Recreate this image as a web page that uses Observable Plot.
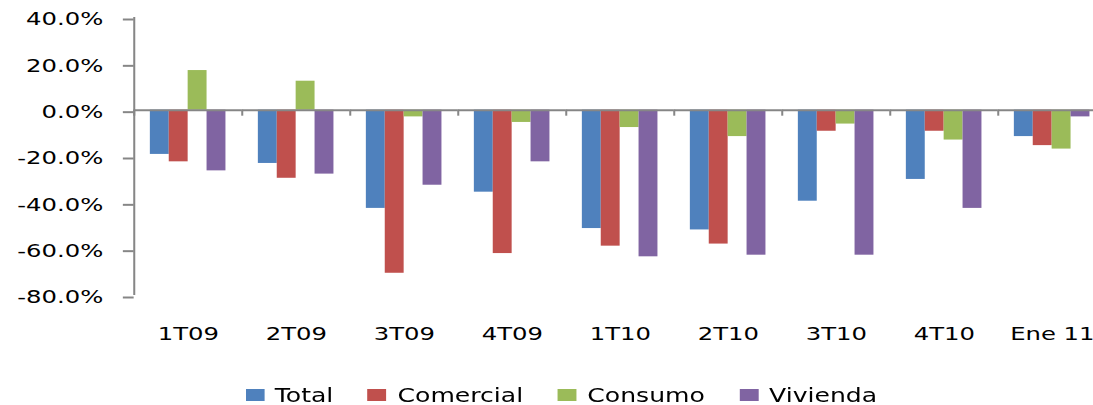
<!DOCTYPE html>
<html>
<head>
<meta charset="utf-8">
<script src="https://cdn.jsdelivr.net/npm/d3@7"></script>
<script src="https://cdn.jsdelivr.net/npm/@observablehq/plot@0.6"></script>
<style>
  html, body { margin: 0; padding: 0; background: white; overflow: hidden; width: 1093px; height: 405px; }
  #wrap { position: relative; width: 819px; height: 405px; transform: scaleX(1.35); transform-origin: 0 0; }
  #legend { position: absolute; top: 384px; left: 181.5px; width: max-content; display: flex; align-items: flex-start;
            font-family: 'DejaVu Sans', sans-serif; font-size: 18.6px; line-height: 24px; color: #000; white-space: nowrap; }
  .item { display: flex; flex-shrink: 0; align-items: flex-start; margin-right: 24.5px; }
  .item span { display: inline-block; flex-shrink: 0; width: max-content; padding-right: 1px; }
  .sw { flex-shrink: 0; width: 14px; height: 12px; margin-top: 4.5px; margin-right: 8px; }
</style>
</head>
<body>
<div id="wrap"><div id="chart"></div><div id="legend"></div></div>
<script>
// ---- data ----
const categories = ["1T09", "2T09", "3T09", "4T09", "1T10", "2T10", "3T10", "4T10", "Ene 11"];
const series = ["Total", "Comercial", "Consumo", "Vivienda"];
const colors = ["#4F81BD", "#C0504D", "#9BBB59", "#8064A2"];
const total     = [-19.1, -23.0, -42.4, -35.4, -51.1, -51.7, -39.3, -29.9, -11.4];
const comercial = [-22.3, -29.4, -70.4, -61.9, -58.7, -57.8,  -9.1,  -9.1, -15.3];
const consumo   = [ 17.1,  12.5,  -2.9,  -5.3,  -7.5, -11.4,  -6.0, -12.9, -16.8];
const vivienda  = [-26.2, -27.6, -32.4, -22.3, -63.3, -62.6, -62.6, -42.4,  -2.9];
const yTicks = [40, 20, 0, -20, -40, -60, -80];

const seriesValues = [total, comercial, consumo, vivienda];
const rows = categories.flatMap((c, i) => series.map((s, j) => ({cat: c, series: s, value: seriesValues[j][i]})));

// ---- layout ----
const W = 819, ML = 98, H = 365, MT = 17, MB = 70;
const step = (W - ML) / categories.length;
const gray = "#868686";

const chart = Plot.plot({
  width: W, height: H,
  marginLeft: ML, marginRight: 0, marginTop: MT, marginBottom: MB,
  style: {fontFamily: "'DejaVu Sans', sans-serif", fontSize: "18px", color: "#000", background: "white"},
  fx: {domain: categories, padding: 0, axis: null, label: null},
  x: {domain: series, paddingInner: 0, paddingOuter: 0.797, axis: null},
  y: {domain: [yTicks[yTicks.length - 1], yTicks[0]], axis: null},
  color: {domain: series, range: colors},
  marks: [
    Plot.barY(rows, {fx: "cat", x: "series", y: "value", fill: "series"}),
    Plot.ruleY([0], {stroke: gray, strokeWidth: 2}),
    // category separator ticks below the zero line
    Plot.ruleX(categories, {fx: d => d, x: null, y1: () => 0, y2: () => -2.6, dx: -step / 2, stroke: gray, strokeWidth: 1.5}),
    // vertical y-axis line
    Plot.ruleX([categories[0]], {fx: d => d, x: null, y1: () => yTicks[0], y2: () => yTicks[yTicks.length - 1], dx: -step / 2, stroke: gray, strokeWidth: 1.5}),
    Plot.axisY({ticks: yTicks, tickSize: 8, tickPadding: 15, tickFormat: d => d.toFixed(1) + "%", stroke: gray, strokeWidth: 2, fill: "#000", fontSize: 18, dy: 2, label: null}),
    Plot.axisFx({anchor: "bottom", tickSize: 0, tickPadding: 32, fontSize: 18, fill: "#000", label: null})
  ]
});
chart.style.maxWidth = "none";
document.getElementById("chart").appendChild(chart);

const legend = document.getElementById("legend");
series.forEach((s, i) => {
  const item = document.createElement("div");
  item.className = "item";
  const sw = document.createElement("div");
  sw.className = "sw";
  sw.style.background = colors[i];
  const label = document.createElement("span");
  label.textContent = s;
  item.appendChild(sw);
  item.appendChild(label);
  legend.appendChild(item);
});
</script>
</body>
</html>
